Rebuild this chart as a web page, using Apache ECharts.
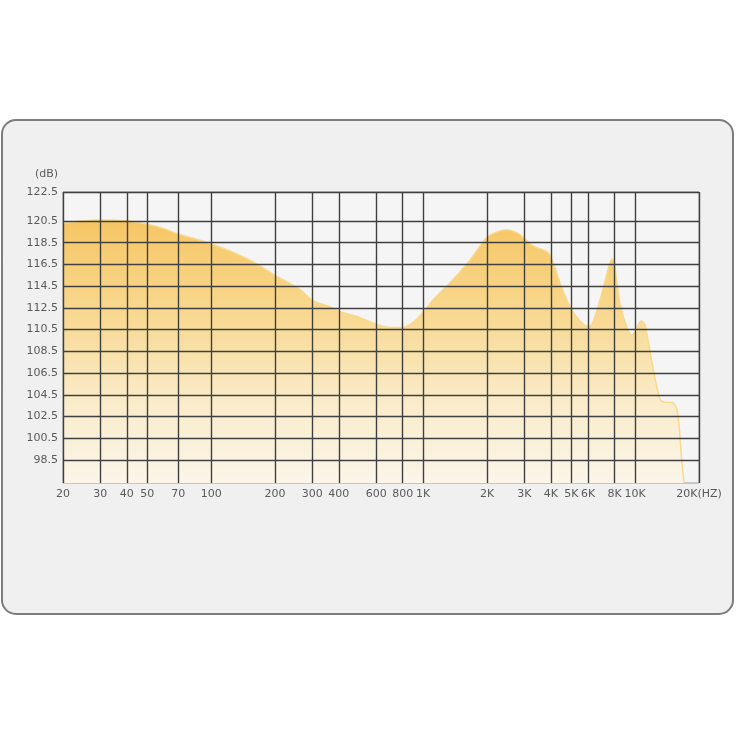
<!DOCTYPE html>
<html>
<head>
<meta charset="utf-8">
<script src="https://cdn.jsdelivr.net/npm/echarts@6/dist/echarts.min.js"></script>
<style>
    html, body { margin: 0; padding: 0; background: #fff; }
    #main { width: 736px; height: 736px; }
</style>
</head>
<body>
<div id="main"></div>
<script>
// frequency (Hz) / level (dB)
var freqs = [20, 25, 30, 40, 50, 60, 70, 100, 152, 200, 262, 300, 363, 400, 504, 600, 700, 800, 900, 1000,
    1110, 1380, 1660, 2000, 2230, 2480, 2770, 3000, 3300, 3880, 4100, 4420, 4930, 5500, 6000, 6260,
    6820, 7210, 7780, 8000, 8480, 9250, 9660, 10000, 10650, 11100, 12000, 13100, 14000, 14900,
    15800, 16600, 17000];
var levels = [120.3, 120.5, 120.6, 120.5, 120.2, 119.8, 119.3, 118.4, 116.9, 115.5, 114.2, 113.2, 112.6, 112.2, 111.6, 111.0, 110.7, 110.7, 111.2, 112.1,
    113.2, 115.1, 116.9, 119.0, 119.5, 119.7, 119.4, 118.9, 118.2, 117.6, 116.7, 114.8, 112.6, 111.3, 110.8, 111.0,
    113.2, 115.0, 117.0, 116.4, 112.9, 110.4, 110.0, 110.3, 111.3, 111.0, 107.5, 104.1, 103.8, 103.8,
    103.0, 98.3, 96.4];

// x grid lines and their labels
var xTicks = [20, 30, 40, 50, 70, 100, 200, 300, 400, 600, 800, 1000, 2000, 3000, 4000, 5000, 6000, 8000, 10000, 20000];
var xTickLabels = ['20', '30', '40', '50', '70', '100', '200', '300', '400', '600', '800', '1K', '2K', '3K', '4K', '5K', '6K', '8K', '10K', '20K(HZ)'];

// y grid lines; the top one is the frame of the plot (wider gap in the original)
var Y_MIN = 96.38;
var Y_MAX = 123.17;
var yTicks = [98.5, 100.5, 102.5, 104.5, 106.5, 108.5, 110.5, 112.5, 114.5, 116.5, 118.5, 120.5, Y_MAX];
var yTickLabels = ['98.5', '100.5', '102.5', '104.5', '106.5', '108.5', '110.5', '112.5', '114.5', '116.5', '118.5', '120.5', '122.5'];

var points = freqs.map(function (f, i) { return [f, levels[i]]; });

var labelStyle = {
    color: '#5a5a5a',
    fontFamily: 'DejaVu Sans',
    fontSize: 11
};

var option = {
    animation: false,
    backgroundColor: '#fff',
    graphic: [{
        type: 'rect',
        z: -10,
        silent: true,
        shape: {x: 2, y: 120, width: 731, height: 494, r: 14},
        style: {fill: '#f0f0f0', stroke: '#7d7d7d', lineWidth: 2}
    }],
    grid: {
        left: 63,
        right: 37,
        top: 192,
        bottom: 253,
        show: true,
        backgroundColor: '#f5f5f5',
        borderColor: '#9a9a9a',
        borderWidth: 1
    },
    xAxis: {
        type: 'log',
        logBase: 10,
        min: 20,
        max: 20000,
        z: 5,
        axisLine: {show: false},
        axisTick: {show: false, customValues: xTicks},
        axisLabel: Object.assign({
            customValues: xTicks,
            margin: 6,
            formatter: function (v) {
                var i = xTicks.indexOf(Math.round(v));
                return i >= 0 ? xTickLabels[i] : '';
            }
        }, labelStyle),
        splitLine: {show: true, lineStyle: {color: '#404040', width: 1.4}}
    },
    yAxis: {
        type: 'value',
        min: Y_MIN,
        max: Y_MAX,
        z: 5,
        name: '(dB)',
        nameLocation: 'end',
        nameGap: 12,
        nameTextStyle: Object.assign({align: 'right', padding: [0, 5, 0, 0]}, labelStyle),
        axisLine: {show: false},
        axisTick: {show: false, customValues: yTicks},
        axisLabel: Object.assign({
            customValues: yTicks,
            margin: 5,
            formatter: function (v) {
                var i = yTicks.indexOf(v);
                return i >= 0 ? yTickLabels[i] : '';
            }
        }, labelStyle),
        splitLine: {show: true, lineStyle: {color: '#404040', width: 1.4}}
    },
    series: [{
        type: 'line',
        data: points,
        z: 2,
        smooth: 0.3,
        symbol: 'none',
        lineStyle: {color: '#f9d98c', width: 1.5},
        areaStyle: {
            origin: 'start',
            opacity: 1,
            color: new echarts.graphic.LinearGradient(0, 0, 0, 1, [
                {offset: 0, color: '#f6c664'},
                {offset: 0.35, color: '#f8d88f'},
                {offset: 0.7, color: '#faeccb'},
                {offset: 1, color: '#fbf6ea'}
            ])
        }
    }]
};

var chart = echarts.init(document.getElementById('main'));
chart.setOption(option);
</script>
</body>
</html>
